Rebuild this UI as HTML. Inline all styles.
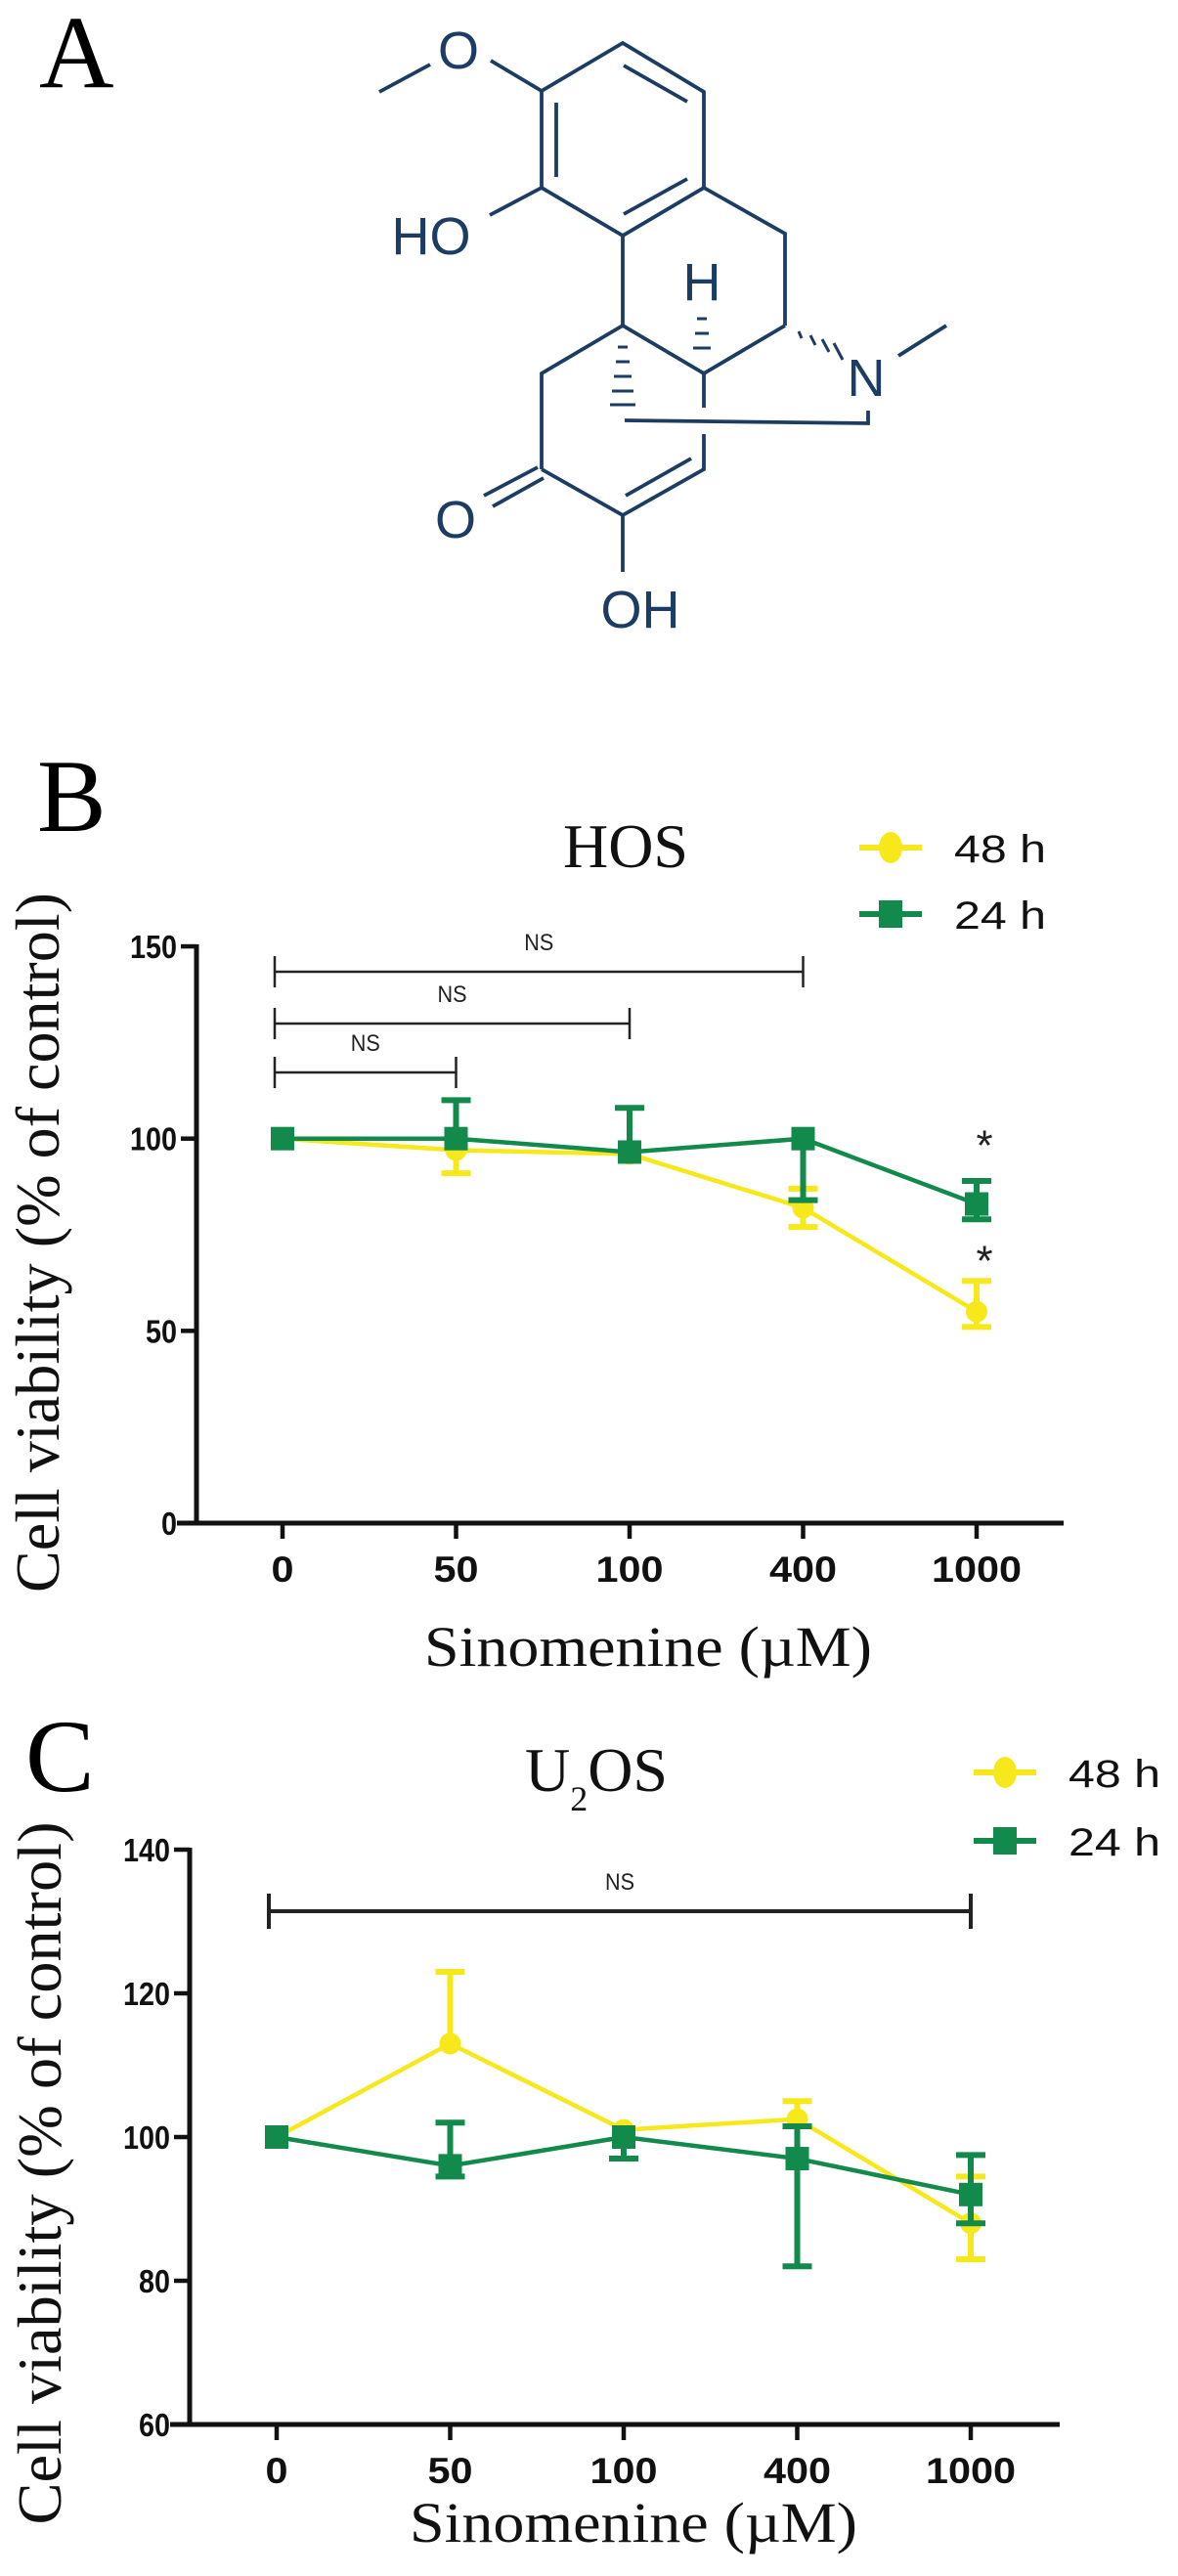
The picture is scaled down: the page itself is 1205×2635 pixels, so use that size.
<!DOCTYPE html>
<html><head><meta charset="utf-8">
<style>
html,body{margin:0;padding:0;background:#fff;}
svg{display:block;}
.serif{font-family:"Liberation Serif",serif;}
.sans{font-family:"Liberation Sans",sans-serif;}
</style></head>
<body>
<svg id="fig" width="1205" height="2635" viewBox="0 0 1205 2635" xmlns="http://www.w3.org/2000/svg">
<rect width="1205" height="2635" fill="#fff"/>
<!-- Panel A -->
<text class="serif" x="40" y="89" font-size="106">A</text>
<g stroke="#1d3c63" stroke-width="3.8" fill="none" stroke-linecap="butt">
  <line x1="388" y1="94" x2="440" y2="66"/>
  <line x1="502" y1="62" x2="554" y2="93"/>
  <polyline points="554,93 637,44 720,94 720,192 637,241 554,192 554,93"/>
  <line x1="569" y1="105" x2="569" y2="181"/>
  <line x1="638" y1="67" x2="703" y2="104"/>
  <line x1="703" y1="183" x2="638" y2="219"/>
  <line x1="554" y1="192" x2="501" y2="220"/>
  <polyline points="720,192 803,239 803,333"/>
  <line x1="637" y1="241" x2="637" y2="333"/>
  <polyline points="554,480 554,382 637,333 720,382 803,333"/>
  <line x1="550" y1="478" x2="495" y2="507"/>
  <line x1="556" y1="489" x2="504" y2="518"/>
  <polyline points="554,480 637,527 720,480 720,444"/>
  <line x1="640" y1="507" x2="707" y2="469"/>
  <line x1="637" y1="527" x2="637" y2="585"/>
  <line x1="720" y1="382" x2="720" y2="417"/>
  <polyline points="639,430 888,433 888,420"/>
  <line x1="919" y1="364" x2="968" y2="333"/>
  <g stroke-width="3">
    <line x1="713" y1="326" x2="723" y2="326"/>
    <line x1="711" y1="341" x2="725" y2="341"/>
    <line x1="709" y1="356" x2="727" y2="356"/>
    <line x1="632" y1="355" x2="642" y2="355"/>
    <line x1="630" y1="370" x2="644" y2="370"/>
    <line x1="628" y1="385" x2="646" y2="385"/>
    <line x1="626" y1="400" x2="648" y2="400"/>
    <line x1="624" y1="414" x2="650" y2="414"/>
    <line x1="817" y1="339" x2="820" y2="346"/>
    <line x1="829" y1="343" x2="834" y2="353"/>
    <line x1="841" y1="347" x2="848" y2="360"/>
    <line x1="853" y1="351" x2="862" y2="368"/>
  </g>
</g>
<g class="sans" fill="#1d3c63" font-size="54" text-anchor="middle">
  <text x="469" y="70">O</text>
  <text x="441" y="260">HO</text>
  <text x="718" y="307">H</text>
  <text x="886" y="405">N</text>
  <text x="466" y="550">O</text>
  <text x="655" y="642">OH</text>
</g>
<!-- Panel labels -->
<text class="serif" x="38" y="850" font-size="106">B</text>
<text class="serif" x="26" y="1832" font-size="106">C</text>
<g id="chartB"></g>
<g id="chartC"></g>
</svg>
<script>
// Shared data
const categories = ["0","50","100","400","1000"];
// HOS (panel B)
const hos48 = [100, 97, 96, 82, 55];
const hos48Hi = [100, 97, 96, 87, 63];
const hos48Lo = [100, 91, 96, 77, 51];
const hos24 = [100, 100, 96.5, 100, 83];
const hos24Hi = [100, 110, 108, 100, 89];
const hos24Lo = [100, 100, 96.5, 84, 79];
const hosTicks = [0, 50, 100, 150];
const hosBrackets = [[0, 3], [0, 2], [0, 1]];
const hosStars = [[4, 100], [4, 70]];
// U2OS (panel C)
const u2os48 = [100, 113, 101, 102.5, 88];
const u2os48Hi = [100, 123, 101, 105, 94.5];
const u2os48Lo = [100, 113, 101, 102.5, 83];
const u2os24 = [100, 96, 100, 97, 92];
const u2os24Hi = [100, 102, 100, 101.5, 97.5];
const u2os24Lo = [100, 94.5, 97, 82, 88];
const u2osTicks = [60, 80, 100, 120, 140];
const u2osBrackets = [[0, 4]];

const NS = "http://www.w3.org/2000/svg";
const YEL = "#f7e81c", GRN = "#118a4c";
function mk(parent, tag, attrs, txt) {
  const e = document.createElementNS(NS, tag);
  for (const k in attrs) e.setAttribute(k, attrs[k]);
  if (txt !== undefined) e.textContent = txt;
  parent.appendChild(e);
  return e;
}

function drawChart(g, cfg) {
  const x = i => cfg.x0 + i * cfg.step;
  const y = v => cfg.yBase - (v - cfg.vMin) * cfg.ppu;
  const yTop = y(cfg.vMax);
  const ya = mk(g, "line", {x1: cfg.axX, y1: yTop - 2, x2: cfg.axX, y2: cfg.yBase + 2.5, stroke: "#111", "stroke-width": 5});
  
  
  const xa = mk(g, "line", {x1: cfg.axX - 20, y1: cfg.yBase, x2: cfg.axEnd, y2: cfg.yBase, stroke: "#111", "stroke-width": 5});
  
  
  cfg.ticks.forEach(t => {
    const tk = mk(g, "line", {x1: cfg.axX - 16, y1: y(t), x2: cfg.axX, y2: y(t), stroke: "#111", "stroke-width": 4.5});
    
    
    const s = String(t);
    const lb = mk(g, "text", {x: cfg.axX - 20, y: y(t) + 12, "text-anchor": "end", class: "sans", "font-weight": "bold", "font-size": 33, textLength: s.length * 16, lengthAdjust: "spacingAndGlyphs", fill: "#111"}, s);
    
    
  });
  categories.forEach((c, i) => {
    const tk = mk(g, "line", {x1: x(i), y1: cfg.yBase, x2: x(i), y2: cfg.yBase + 16, stroke: "#111", "stroke-width": 4.5});
    
    
    const lb = mk(g, "text", {x: x(i), y: cfg.yBase + 60, "text-anchor": "middle", class: "sans", "font-weight": "bold", "font-size": 37, textLength: c.length * 23, lengthAdjust: "spacingAndGlyphs", fill: "#111"}, c);
    
    
  });
  const yt = mk(g, "text", {transform: `translate(${cfg.yTitleX},${cfg.yTitleC}) rotate(-90)`, "text-anchor": "middle", class: "serif", "font-size": 64, textLength: cfg.yTitleLen, lengthAdjust: "spacingAndGlyphs", fill: "#111"}, "Cell viability (% of control)");
  
  
  const xt = mk(g, "text", {x: cfg.xTitleX, y: cfg.xTitleY, "text-anchor": "middle", class: "serif", "font-size": 58, textLength: 458, lengthAdjust: "spacingAndGlyphs", fill: "#111"}, "Sinomenine (\u00B5M)");
  
  
  cfg.brackets.forEach((b, k) => {
    const by = cfg.brY[k];
    const gb = mk(g, "g", {stroke: "#222", "stroke-width": cfg.brW});
    
    
    const xl = x(b[0]) - 8, xr = x(b[1]);
    mk(gb, "line", {x1: xl, y1: by, x2: xr, y2: by});
    mk(gb, "line", {x1: xl, y1: by - cfg.brH, x2: xl, y2: by + cfg.brH});
    mk(gb, "line", {x1: xr, y1: by - cfg.brH, x2: xr, y2: by + cfg.brH});
    const t = mk(g, "text", {x: (xl + xr) / 2, y: by - 22, "text-anchor": "middle", class: "sans", "font-size": 24, textLength: 30, lengthAdjust: "spacingAndGlyphs", fill: "#222"}, "NS");
    
    
  });
  const series = [
    {v: cfg.s48, hi: cfg.s48Hi, lo: cfg.s48Lo, col: YEL, mark: "circle", name: "48h"},
    {v: cfg.s24, hi: cfg.s24Hi, lo: cfg.s24Lo, col: GRN, mark: "square", name: "24h"}
  ];
  series.forEach(s => {
    const gs = mk(g, "g", {});
    
    
    const pts = s.v.map((v, i) => x(i) + "," + y(v)).join(" ");
    const pl = mk(gs, "polyline", {points: pts, fill: "none", stroke: s.col, "stroke-width": 4.5});
    
    
    s.v.forEach((v, i) => {
      const eb = mk(gs, "g", {stroke: s.col, "stroke-width": 6});
      
      
      if (s.hi[i] > v + 0.5) {
        mk(eb, "line", {x1: x(i), y1: y(v), x2: x(i), y2: y(s.hi[i])});
        mk(eb, "line", {x1: x(i) - 15, y1: y(s.hi[i]), x2: x(i) + 15, y2: y(s.hi[i])});
      }
      if (s.lo[i] < v - 0.5) {
        mk(eb, "line", {x1: x(i), y1: y(v), x2: x(i), y2: y(s.lo[i])});
        mk(eb, "line", {x1: x(i) - 15, y1: y(s.lo[i]), x2: x(i) + 15, y2: y(s.lo[i])});
      }
      let m;
      if (s.mark === "circle") m = mk(gs, "circle", {cx: x(i), cy: y(v), r: 11, fill: s.col});
      else m = mk(gs, "rect", {x: x(i) - 12, y: y(v) - 12, width: 24, height: 24, fill: s.col});
      
      
    });
  });
  (cfg.stars || []).forEach(st => {
    const t = mk(g, "text", {x: x(st[0]) + 8, y: y(st[1]) + 22, "text-anchor": "middle", class: "sans", "font-size": 44, fill: "#222"}, "*");
    
    
  });
  const tt = mk(g, "text", {x: cfg.titleX, y: cfg.titleY, "text-anchor": "middle", class: "serif", "font-size": 64, fill: "#111"});
  
  
  if (cfg.sub) {
    mk(tt, "tspan", {}, "U");
    mk(tt, "tspan", {"font-size": 36, dy: 20}, "2");
    mk(tt, "tspan", {dy: -20}, "OS");
  } else tt.textContent = cfg.title;
  [[YEL, "circle", "48 h", cfg.legY[0]], [GRN, "square", "24 h", cfg.legY[1]]].forEach(l => {
    const lg = mk(g, "g", {});
    
    
    mk(lg, "line", {x1: cfg.legX - 32, y1: l[3], x2: cfg.legX + 32, y2: l[3], stroke: l[0], "stroke-width": 6});
    if (l[1] === "circle") mk(lg, "ellipse", {cx: cfg.legX, cy: l[3], rx: 12, ry: 16, fill: l[0]});
    else mk(lg, "rect", {x: cfg.legX - 12, y: l[3] - 14, width: 24, height: 28, fill: l[0]});
    mk(lg, "text", {x: cfg.legX + 65, y: l[3] + 15, class: "sans", "font-size": 40, textLength: 94, lengthAdjust: "spacingAndGlyphs", fill: "#111"}, l[2]);
  });
}

drawChart(document.getElementById("chartB"), {
  x0: 289, step: 177.5, yBase: 1558, vMin: 0, vMax: 150, ppu: 3.933,
  axX: 201, axEnd: 1088, ticks: hosTicks,
  yTitleX: 60, yTitleC: 1271, yTitleLen: 716, xTitleX: 663, xTitleY: 1704,
  brackets: hosBrackets, brY: [994, 1047, 1097], brW: 2.5, brH: 16,
  s48: hos48, s48Hi: hos48Hi, s48Lo: hos48Lo, s24: hos24, s24Hi: hos24Hi, s24Lo: hos24Lo,
  stars: hosStars, title: "HOS", titleX: 640, titleY: 887,
  legX: 911, legY: [867, 935]
});
drawChart(document.getElementById("chartC"), {
  x0: 283, step: 177.5, yBase: 2480, vMin: 60, vMax: 140, ppu: 7.35,
  axX: 194, axEnd: 1084, ticks: u2osTicks,
  yTitleX: 62, yTitleC: 2223, yTitleLen: 719, xTitleX: 648, xTitleY: 2600,
  brackets: u2osBrackets, brY: [1955], brW: 4, brH: 18,
  s48: u2os48, s48Hi: u2os48Hi, s48Lo: u2os48Lo, s24: u2os24, s24Hi: u2os24Hi, s24Lo: u2os24Lo,
  stars: [], sub: true, titleX: 610, titleY: 1832,
  legX: 1028, legY: [1813, 1883]
});
</script>
</body></html>
